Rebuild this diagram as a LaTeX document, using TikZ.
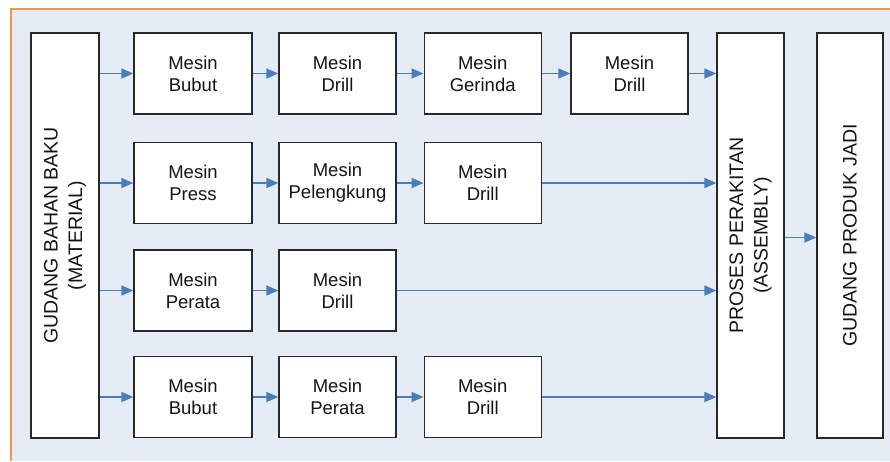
\documentclass[tikz,border=0pt]{standalone}
\usepackage{fontspec}
\setmainfont{Liberation Sans}
\usetikzlibrary{arrows.meta}
\definecolor{pagebg}{RGB}{229,236,245}
\definecolor{frameorange}{RGB}{240,150,70}
\definecolor{flowblue}{RGB}{74,126,187}
\definecolor{edgegray}{RGB}{40,40,40}
\definecolor{txt}{RGB}{20,20,20}
\begin{document}
\begin{tikzpicture}[x=1pt,y=-1pt,
  machine/.style={draw=edgegray, line width=1.3pt, fill=white, inner sep=0pt,
    minimum width=117pt, minimum height=81pt, align=center, text=txt,
    font=\fontsize{18.5}{22}\selectfont},
  store/.style={draw=edgegray, line width=1.3pt, fill=white, inner sep=0pt,
    minimum height=405pt},
  storetext/.style={rotate=90, align=center, text=txt, inner sep=0pt,
    font=\fontsize{19.5}{24.5}\selectfont},
  flow/.style={draw=flowblue, line width=1.7pt, -{Triangle[length=12pt,width=10pt]}}]
  % page background and orange frame
  \useasboundingbox (0,0) rectangle (890,461);
  \fill[white] (0,0) rectangle (890,461);
  \fill[pagebg] (11,9) rectangle (890,461);
  \draw[frameorange, line width=2pt] (11,461) -- (11,9) -- (890,9);

  % storage and assembly columns
  \node[store, minimum width=68pt] (gbb) at (65,235.5) {};
  \node[storetext] at (gbb.center) {GUDANG BAHAN BAKU\\(MATERIAL)};
  \node[store, minimum width=67pt] (asm) at (750.5,235.5) {};
  \node[storetext] at (asm.center) {PROSES PERAKITAN\\(ASSEMBLY)};
  \node[store, minimum width=66pt] (gpj) at (850,235.5) {};
  \node[storetext] at (gpj.center) {GUDANG PRODUK JADI};

  % machine rows
  \node[machine, minimum width=118pt] (a1) at (193,73.5) {Mesin\\Bubut};
  \node[machine] (a2) at (337.5,73.5) {Mesin\\Drill};
  \node[machine] (a3) at (482.7,73.5) {Mesin\\Gerinda};
  \node[machine] (a4) at (629.5,73.5) {Mesin\\Drill};

  \node[machine, minimum width=118pt] (b1) at (193,183) {Mesin\\Press};
  \node[machine] (b2) at (337.5,183) {Mesin\\Pelengkung};
  \node[machine] (b3) at (482.7,183) {Mesin\\Drill};

  \node[machine, minimum width=118pt] (c1) at (193,290.5) {Mesin\\Perata};
  \node[machine] (c2) at (337.5,290.5) {Mesin\\Drill};

  \node[machine, minimum width=118pt] (d1) at (193,397) {Mesin\\Bubut};
  \node[machine] (d2) at (337.5,397) {Mesin\\Perata};
  \node[machine] (d3) at (482.7,397) {Mesin\\Drill};

  % flows
  \foreach \r in {a,b,c,d} \draw[flow] (gbb.east |- \r1.west) -- (\r1.west);
  \draw[flow] (a1) -- (a2);
  \draw[flow] (a2) -- (a3);
  \draw[flow] (a3) -- (a4);
  \draw[flow] (a4) -- (asm.west |- a4.east);
  \draw[flow] (b1) -- (b2);
  \draw[flow] (b2) -- (b3);
  \draw[flow] (b3) -- (asm.west |- b3.east);
  \draw[flow] (c1) -- (c2);
  \draw[flow] (c2) -- (asm.west |- c2.east);
  \draw[flow] (d1) -- (d2);
  \draw[flow] (d2) -- (d3);
  \draw[flow] (d3) -- (asm.west |- d3.east);
  \coordinate (mid) at (0,237.5);
  \draw[flow] (asm.east |- mid) -- (gpj.west |- mid);
\end{tikzpicture}
\end{document}
